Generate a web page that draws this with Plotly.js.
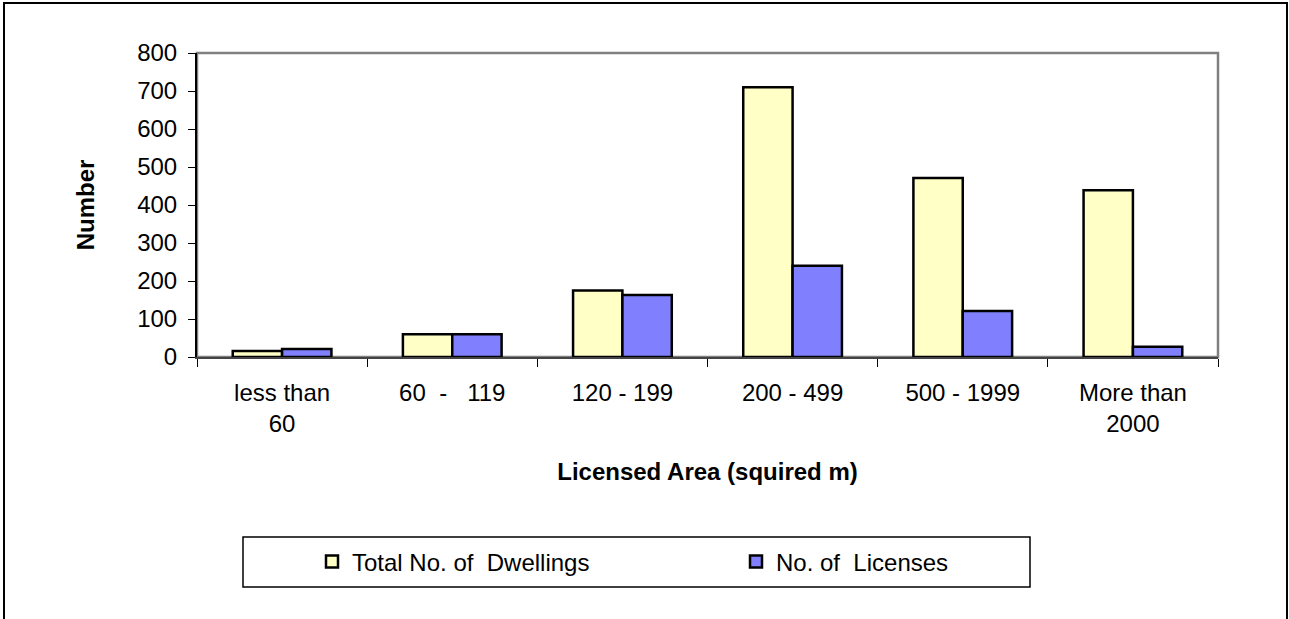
<!DOCTYPE html>
<html><head><meta charset="utf-8">
<script src="https://cdn.plot.ly/plotly-3.0.1.min.js"></script>
<style>html,body{margin:0;padding:0;background:#fff}#c{width:1289px;height:619px}</style>
</head><body><div id="c"></div>
<script>
const categories = ["less than<br>60", "60\u00a0\u00a0-\u00a0\u00a0\u00a0119", "120 - 199", "200 - 499", "500 - 1999", "More than<br>2000"];
const dwellings = [16, 60, 175, 710, 471, 439];
const licenses = [21, 60, 163, 240, 121, 27];
const seriesNames = ["Total No. of\u00a0\u00a0Dwellings", "No. of\u00a0\u00a0Licenses"];

const FAM = "Liberation Sans, Arial, sans-serif";
const font = {family: FAM, size: 24, color: "#000"};
const data = [
  {type: "bar", x: categories, y: dwellings, name: seriesNames[0],
   marker: {color: "#FFFFC6", line: {color: "#000", width: 2.5}}},
  {type: "bar", x: categories, y: licenses, name: seriesNames[1],
   marker: {color: "#8080FF", line: {color: "#000", width: 2.5}}}
];
const PW = 1021, PH = 304, L = 197, T = 53;
const px = v => (v - L) / PW;
const py = v => 1 - (v - T) / PH;
const layout = {
  width: 1289, height: 619,
  margin: {l: L, r: 71, t: T, b: 262},
  paper_bgcolor: "#fff", plot_bgcolor: "#fff",
  font: font,
  barmode: "group", bargap: 0.42, bargroupgap: 0,
  showlegend: true,
  legend: {orientation: "h", x: px(312), xanchor: "left", y: py(562), yanchor: "middle",
    font: {family: FAM, size: 24, color: "#000"}, entrywidth: 379,
    bgcolor: "rgba(0,0,0,0)", borderwidth: 0},
  xaxis: {type: "category", tickson: "boundaries", ticks: "outside", ticklen: 8, tickcolor: "#000",
    showline: true, linecolor: "#444", linewidth: 2, showgrid: false, zeroline: false,
    tickfont: font, fixedrange: true, ticklabelstandoff: 13,
    title: {text: "<b>Licensed Area (squired m)</b>", font: {family: FAM, size: 24}, standoff: 27}},
  yaxis: {range: [0, 800], dtick: 100, ticks: "outside", ticklen: 7, tickcolor: "#000",
    showline: true, linecolor: "#000", linewidth: 2, showgrid: false, zeroline: false,
    tickfont: font, ticklabelstandoff: 6,
    title: {text: "<b>Number</b>", font: {family: FAM, size: 24}, standoff: 36}},
  shapes: [
    {type: "rect", xref: "paper", yref: "paper", x0: 0, x1: 1, y0: 0, y1: 1, line: {color: "#808080", width: 2.5}, layer: "below"},
    {type: "rect", xref: "paper", yref: "paper", x0: px(243), x1: px(1030), y0: py(537), y1: py(587), line: {color: "#000", width: 1.5}},
    {type: "rect", xref: "paper", yref: "paper", x0: px(4), x1: px(1287), y0: py(3), y1: py(630), line: {color: "#000", width: 2}}
  ]
};
Plotly.newPlot("c", data, layout, {displayModeBar: false, staticPlot: true});
</script></body></html>
